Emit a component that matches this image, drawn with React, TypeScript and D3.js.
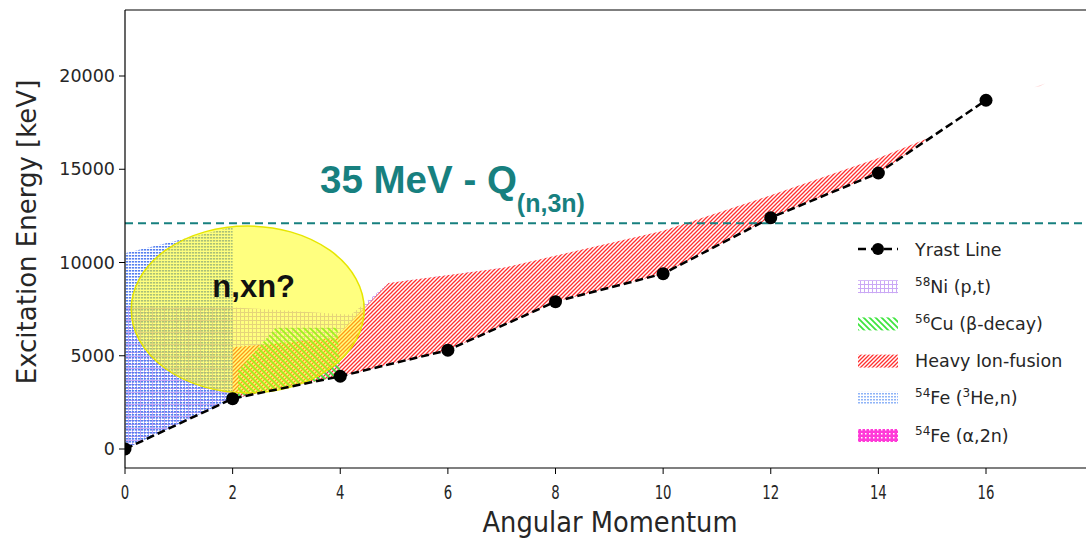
import React from "react";
import * as d3 from "d3";

const W = 1086;
const H = 540;

// Yrast line
const yrastJ = [0, 2, 4, 6, 8, 10, 12, 14, 16];
const yrastE = [0, 2700, 3900, 5300, 7900, 9400, 12400, 14800, 18700];

// Region outlines (angular momentum, energy keV)
const fe3HeJ = [0, 2, 2, 0];
const fe3HeE = [10500, 11900, 2700, 0];

const ni58J = [0, 2, 4.2, 4.9, 7, 7, 6, 4, 2, 0];
const ni58E = [7700, 7600, 7200, 8900, 9700, 6600, 5300, 3900, 2700, 0];

const hiJ = [2, 3.9, 4.9, 7, 10, 12, 14, 15, 14, 12, 10, 8, 6, 4, 2];
const hiE = [5450, 5950, 8900, 9700, 11700, 13600, 15600, 16750, 14800, 12400, 9400, 7900, 5300, 3900, 2700];

const cu56J = [2.1, 2.8, 3.95, 4.0, 2.1];
const cu56E = [4200, 6500, 6500, 3900, 2800];

const feA2nJ = [16.9, 17.1, 17.0];
const feA2nE = [19400, 19600, 19450];

const qLine = 12100;
const ellipseC = [2.28, 7480];
const ellipseSize = [4.33, 8950];

const xTicks = [0, 2, 4, 6, 8, 10, 12, 14, 16];
const yTicks = [0, 5000, 10000, 15000, 20000];

const legendItems = [
  { key: "yrast", sup: "", text: "Yrast Line" },
  { key: "hNi", sup: "58", text: "Ni (p,t)" },
  { key: "hCu", sup: "56", text: "Cu (β-decay)" },
  { key: "hRed", sup: "", text: "Heavy Ion-fusion" },
  { key: "hBlueL", sup: "54", text: "Fe (", sup2: "3", text2: "He,n)" },
  { key: "hMag", sup: "54", text: "Fe (α,2n)" },
];

export default function App() {
  const left = 125;
  const top = 10;
  const bottom = 468;
  const x = d3.scaleLinear().domain([0, 16]).range([left, 986]);
  const y = d3.scaleLinear().domain([0, 20000]).range([449, 76]);

  const poly = (J: number[], E: number[]) =>
    J.map((j, i) => `${x(j)},${y(E[i])}`).join(" ");

  const line = d3
    .line<number>()
    .x((_, i) => x(yrastJ[i]))
    .y((d) => y(d));

  const cx = x(ellipseC[0]);
  const cy = y(ellipseC[1]);
  const rx = (x(ellipseSize[0]) - x(0)) / 2;
  const ry = (y(0) - y(ellipseSize[1])) / 2;

  const font = "DejaVu Sans, sans-serif";
  const arial = "Liberation Sans, Arial, sans-serif";
  const teal = "#17807f";

  return (
    <svg
      width={W}
      height={H}
      style={{ position: "fixed", left: 0, top: 0, background: "#fff" }}
    >
      <defs>
        <pattern id="hRed" width={4} height={4} patternUnits="userSpaceOnUse">
          <rect x={0} y={0} width={4} height={4} fill="#fff" />
          <path d="M-1,1 l2,-2 M0,4 l4,-4 M3,5 l2,-2" stroke="#ff3030" strokeWidth={1.3} />
        </pattern>
        <pattern id="hCu" width={6} height={6} patternUnits="userSpaceOnUse">
          <path d="M-1,5 l2,2 M0,0 l6,6 M5,-1 l2,2" stroke="#3ee43e" strokeWidth={1.8} />
        </pattern>
        <pattern id="hBlue" width={3} height={3} patternUnits="userSpaceOnUse">
          <rect x={0} y={0} width={2.2} height={1.6} fill="#5580f0" />
        </pattern>
        <pattern id="hBlueL" width={3} height={3} patternUnits="userSpaceOnUse">
          <rect x={0} y={0} width={3} height={3} fill="#fff" />
          <rect x={0} y={0} width={2} height={1.5} fill="#8fb4f8" />
        </pattern>
        <pattern id="hNi" width={4} height={4} patternUnits="userSpaceOnUse">
          <path d="M0,0.5 h4 M0.5,0 v4" stroke="#caa8f5" strokeWidth={1} />
        </pattern>
        <pattern id="hMag" width={4} height={4} patternUnits="userSpaceOnUse">
          <rect x={0} y={0} width={4} height={4} fill="#ff3ad8" />
          <rect x={1} y={1} width={1.5} height={1.5} fill="#fff" />
        </pattern>
        <clipPath id="plotClip">
          <rect x={left} y={top} width={W - left} height={bottom - top} />
        </clipPath>
      </defs>

      <g clipPath="url(#plotClip)">
        <polygon points={poly(ni58J, ni58E)} fill="url(#hNi)" />
        <polygon points={poly(fe3HeJ, fe3HeE)} fill="url(#hBlue)" />
        <polygon points={poly(hiJ, hiE)} fill="url(#hRed)" />
        <polygon points={poly(cu56J, cu56E)} fill="url(#hCu)" />
        <polygon points={poly(feA2nJ, feA2nE)} fill="#ff9090" opacity={0.4} />

        <line
          x1={left}
          x2={W}
          y1={y(qLine)}
          y2={y(qLine)}
          stroke={teal}
          strokeWidth={2}
          strokeDasharray="8,5"
        />

        <ellipse
          cx={cx}
          cy={cy}
          rx={rx}
          ry={ry}
          fill="#ffff00"
          fillOpacity={0.5}
          stroke="#e6e600"
          strokeWidth={1.5}
        />

        <path
          d={line(yrastE) || ""}
          fill="none"
          stroke="#000"
          strokeWidth={2.5}
          strokeDasharray="8,4"
        />
        {yrastE.map((e, i) => (
          <circle key={i} cx={x(yrastJ[i])} cy={y(e)} r={6.5} fill="#000" />
        ))}
      </g>

      {/* annotations */}
      <text x={cx + 6} y={297} textAnchor="middle" fontFamily={arial} fontWeight="bold" fontSize={31} fill="#111">
        n,xn?
      </text>
      <text x={320} y={193} fontFamily={arial} fontWeight="bold" fontSize={38.5} fill={teal}>
        35 MeV - Q
        <tspan fontSize={25} dy={19}>(n,3n)</tspan>
      </text>

      {/* spines */}
      <line x1={left} x2={left} y1={top} y2={bottom} stroke="#000" strokeWidth={1.2} />
      <line x1={left} x2={W} y1={bottom} y2={bottom} stroke="#000" strokeWidth={1.2} />
      <line x1={left} x2={W} y1={top} y2={top} stroke="#000" strokeWidth={1.2} />

      {/* y ticks */}
      {yTicks.map((t) => (
        <g key={t}>
          <line x1={left - 6} x2={left} y1={y(t)} y2={y(t)} stroke="#000" strokeWidth={1} />
          <text x={left - 10} y={y(t) + 6} textAnchor="end" fontFamily={font} fontSize={17.5} fill="#262626">
            {t}
          </text>
        </g>
      ))}
      {/* x ticks */}
      {xTicks.map((t) => (
        <g key={t}>
          <line x1={x(t)} x2={x(t)} y1={bottom} y2={bottom + 6} stroke="#000" strokeWidth={1} />
          <text
            transform={`translate(${x(t)},${bottom + 31}) scale(0.7,1)`}
            textAnchor="middle"
            fontFamily={font}
            fontSize={19}
            fill="#262626"
          >
            {t}
          </text>
        </g>
      ))}

      <text
        transform={`translate(610,532) scale(0.92,1)`}
        textAnchor="middle"
        fontFamily={font}
        fontSize={28}
        fill="#262626"
      >
        Angular Momentum
      </text>
      <text
        transform={`translate(36,232) rotate(-90)`}
        textAnchor="middle"
        fontFamily={font}
        fontSize={26}
        fill="#262626"
      >
        Excitation Energy [keV]
      </text>

      {/* legend */}
      {legendItems.map((it, i) => {
        const ly = 249 + i * 37.2;
        return (
          <g key={it.key}>
            {it.key === "yrast" ? (
              <g>
                <line x1={858} x2={898} y1={ly} y2={ly} stroke="#000" strokeWidth={2.5} strokeDasharray="8,5" />
                <circle cx={878} cy={ly} r={6} fill="#000" />
              </g>
            ) : (
              <rect x={858} y={ly - 6} width={40} height={13} fill={`url(#${it.key})`} />
            )}
            <text x={915} y={ly + 6.5} fontFamily={font} fontSize={17.5} fill="#262626">
              {it.sup ? (
                <tspan fontSize={12} dy={-7}>
                  {it.sup}
                </tspan>
              ) : null}
              <tspan dy={it.sup ? 7 : 0}>{it.text}</tspan>
              {it.sup2 ? (
                <>
                  <tspan fontSize={12} dy={-7}>
                    {it.sup2}
                  </tspan>
                  <tspan dy={7}>{it.text2}</tspan>
                </>
              ) : null}
            </text>
          </g>
        );
      })}
    </svg>
  );
}
